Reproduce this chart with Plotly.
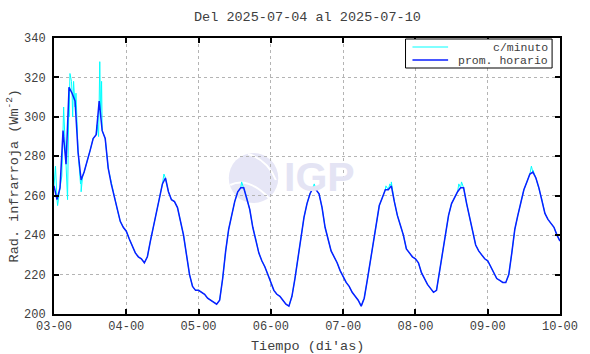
import plotly.graph_objects as go
from datetime import datetime, timedelta

# ---------------- data ----------------
start = datetime(2025, 7, 3)
day03 = [265, 258, 264, 293, 276, 315, 312, 308, 282, 268, 272, 277, 283, 289, 291, 308, 293, 289, 274, 266, 260, 253, 247, 244]
day04 = [242, 238, 234, 231, 229, 228, 226, 229, 237, 244, 252, 259, 266, 269, 262, 258, 257, 254, 247, 240, 230, 220, 214, 212]
day05 = [212, 211, 210, 208, 207, 206, 205, 207, 218, 232, 243, 250, 257, 262, 264, 264, 259, 253, 244, 238, 231, 227, 224, 220]
day06 = [216, 212, 210, 209, 207, 205, 204, 209, 218, 229, 239, 249, 256, 261, 264, 263, 261, 254, 244, 238, 232, 229, 226, 222]
day07 = [219, 216, 214, 211, 209, 207, 204, 208, 217, 227, 237, 247, 255, 259, 263, 263, 265, 257, 250, 245, 240, 233, 231, 229]
day08 = [228, 226, 221, 218, 215, 213, 211, 212, 222, 232, 241, 250, 256, 259, 262, 264, 264, 256, 249, 242, 235, 232, 230, 228]
day09 = [227, 224, 221, 218, 217, 216, 216, 220, 231, 243, 250, 257, 263, 267, 271, 272, 269, 264, 258, 251, 248, 246, 244, 240]
day10_start = [237]

# per-minute excursions visible above/below the hourly mean (hours since 07-03 00:00, value)
spike_hours = [0.5, 1.2, 2.6, 3.2, 3.6, 4.5, 5.0, 5.3, 5.8, 6.2, 6.5, 7.0, 7.3, 8.8, 9.0, 9.5,
               14.3, 14.8, 15.2, 15.5, 15.8,
               36.5, 62.3, 86.4, 110.2, 111.5, 112.0, 134.4, 135.3, 158.5, 159.0]
spike_vals = [275, 255, 270, 305, 290, 258, 300, 322, 318, 300, 318, 305, 312, 266, 262, 270,
              296, 290, 328, 300, 318,
              271, 267, 266, 265, 266, 267, 266, 267, 275, 273]

y_ticks = [200, 220, 240, 260, 280, 300, 320, 340]

# ---------------- build series ----------------
hourly = day03 + day04 + day05 + day06 + day07 + day08 + day09 + day10_start
hourly_t = [start + timedelta(hours=i) for i in range(len(hourly))]

pairs = [(float(i), v) for i, v in enumerate(hourly)] + list(zip(spike_hours, spike_vals))
pairs.sort(key=lambda p: p[0])
minute_t = [start + timedelta(hours=h) for h, _ in pairs]
minute_v = [v for _, v in pairs]

# ---------------- geometry helpers ----------------
W, H = 590, 354
L, R, T, B = 54, 565, 38, 314
pw, ph = R - L, B - T


def px(x):
    return (x - L) / pw


def py(y):
    return (B - y) / ph


FONT = "Liberation Mono"
TXT = "#404040"

fig = go.Figure()
fig.add_trace(go.Scatter(x=minute_t, y=minute_v, mode="lines",
                         line=dict(color="#00ffff", width=1), name="c/minuto"))
fig.add_trace(go.Scatter(x=hourly_t, y=hourly, mode="lines",
                         line=dict(color="#0a1eff", width=1.5), name="prom. horario"))

axis_common = dict(showline=True, linecolor="black", linewidth=2, mirror="ticks",
                   ticks="inside", ticklen=5, tickwidth=1.5, tickcolor="black",
                   showgrid=True, gridcolor="#b4b4b4", griddash="dot", gridwidth=1,
                   zeroline=False, tickfont=dict(family=FONT, size=12, color=TXT))

fig.update_xaxes(range=[start, start + timedelta(days=7)], type="date",
                 dtick=86400000, tick0=start, tickformat="%d-%H", **axis_common)
fig.update_yaxes(range=[200, 340], tickvals=y_ticks, ticklabelstandoff=4, **axis_common)

shapes = []
# IGP watermark circle
shapes.append(dict(type="circle", xref="paper", yref="paper", layer="below",
                   x0=px(230.5), x1=px(280.5), y0=py(203), y1=py(153),
                   fillcolor="#e6e6f6", line=dict(width=0)))
shapes.append(dict(type="path", xref="paper", yref="paper", layer="below",
                   path=f"M {px(232)},{py(185)} Q {px(250)},{py(176)} {px(272)},{py(199)}",
                   line=dict(color="white", width=2)))
shapes.append(dict(type="path", xref="paper", yref="paper", layer="below",
                   path=f"M {px(250)},{py(154)} Q {px(270)},{py(160)} {px(278)},{py(180)}",
                   line=dict(color="white", width=2)))
# manual legend
shapes.append(dict(type="rect", xref="paper", yref="paper", layer="above",
                   x0=px(409), x1=px(557), y0=py(68), y1=py(39),
                   fillcolor="white", line=dict(color="black", width=1)))
shapes.append(dict(type="line", xref="paper", yref="paper", layer="above",
                   x0=px(416), x1=px(452), y0=py(47), y1=py(47),
                   line=dict(color="#00ffff", width=1)))
shapes.append(dict(type="line", xref="paper", yref="paper", layer="above",
                   x0=px(416), x1=px(452), y0=py(60), y1=py(60),
                   line=dict(color="#0a1eff", width=1.5)))

annotations = [
    dict(text="<b>IGP</b>", xref="paper", yref="paper", x=px(322), y=py(177),
         showarrow=False, font=dict(family="Liberation Sans", size=41, color="#e4e4f4"),
         xanchor="center", yanchor="middle"),
    dict(text="c/minuto", xref="paper", yref="paper", x=px(555), y=py(47),
         showarrow=False, font=dict(family=FONT, size=11.5, color=TXT),
         xanchor="right", yanchor="middle"),
    dict(text="prom. horario", xref="paper", yref="paper", x=px(555), y=py(60),
         showarrow=False, font=dict(family=FONT, size=11.5, color=TXT),
         xanchor="right", yanchor="middle"),
    dict(text="Del 2025-07-04 al 2025-07-10", xref="paper", yref="paper",
         x=px(309.5), y=py(18), showarrow=False,
         font=dict(family=FONT, size=13.5, color=TXT),
         xanchor="center", yanchor="middle"),
    dict(text="Tiempo (di'as)", xref="paper", yref="paper",
         x=px(309.5), y=py(346), showarrow=False,
         font=dict(family=FONT, size=13.5, color=TXT),
         xanchor="center", yanchor="middle"),
    dict(text="Rad. infrarroja (Wm<sup>-2</sup>)", xref="paper", yref="paper",
         x=px(13), y=py(176), showarrow=False, textangle=-90,
         font=dict(family=FONT, size=13.5, color=TXT),
         xanchor="center", yanchor="middle"),
]

fig.update_layout(width=W, height=H, margin=dict(l=L, r=W - R, t=T, b=H - B),
                  paper_bgcolor="white", plot_bgcolor="white", showlegend=False,
                  shapes=shapes, annotations=annotations)

fig.write_html("out.html")
